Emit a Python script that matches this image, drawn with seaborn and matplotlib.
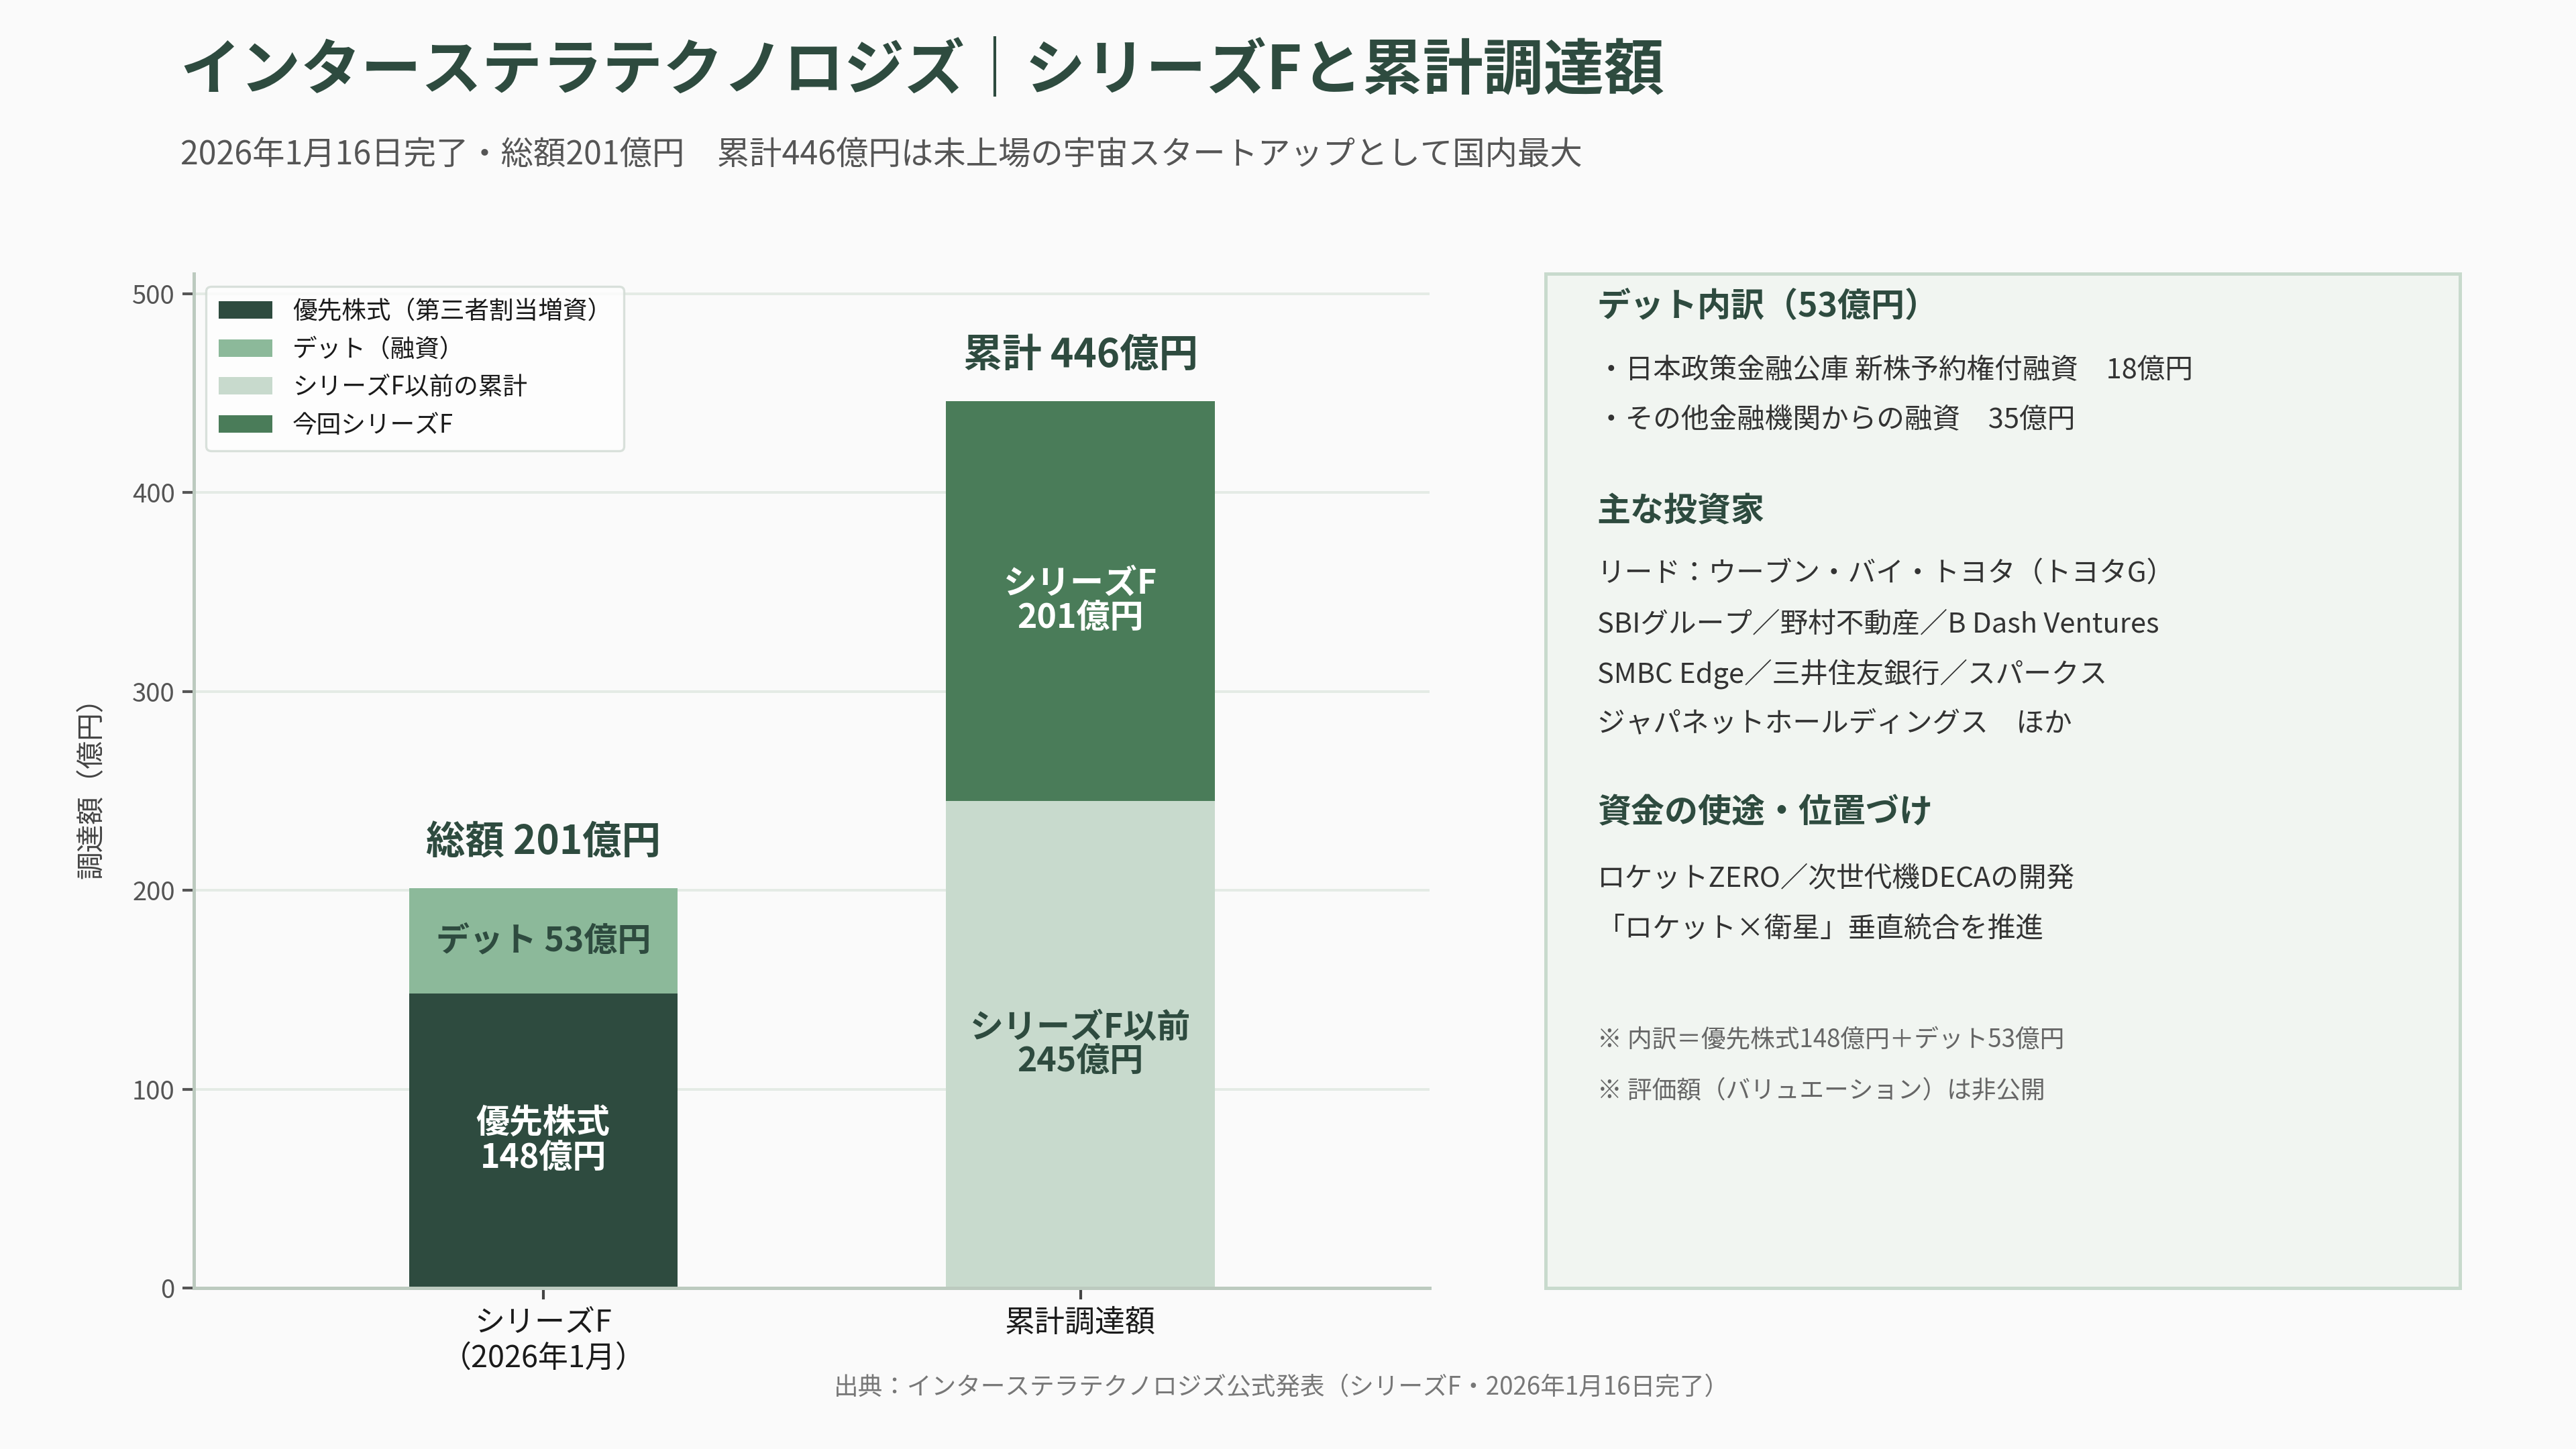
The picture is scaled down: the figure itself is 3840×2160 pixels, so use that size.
import numpy as np
import pandas as pd
import matplotlib
matplotlib.use("Agg")
import matplotlib.pyplot as plt
from matplotlib.patches import Patch
import seaborn as sns

# data
categories = ["シリーズF\n（2026年1月）", "累計調達額"]
preferred = [148, 0]      # 優先株式
debt = [53, 0]            # デット
prev_total = [0, 245]     # シリーズF以前
series_f = [0, 201]       # 今回シリーズF
totals = [201, 446]

legend_labels = ["優先株式（第三者割当増資）", "デット（融資）", "シリーズF以前の累計", "今回シリーズF"]
yticks = [0, 100, 200, 300, 400, 500]

# colors
c_pref = "#2e4b3f"
c_debt = "#8cb99a"
c_prev = "#c8dacd"
c_f = "#4a7c59"
c_text = "#2e4b3f"
bg = "#fafafa"

sns.set_theme(style="white")
plt.rcParams["font.family"] = ["Noto Sans CJK JP", "DejaVu Sans"]

fig = plt.figure(figsize=(16, 9), dpi=240, facecolor=bg)
ax = fig.add_axes([0.0753, 0.111, 0.4797, 0.700])
ax.set_facecolor(bg)

df = pd.DataFrame({"cat": categories, "pref": preferred, "debt": debt,
                   "prev": prev_total, "f": series_f})

# stacked layers
bar_kw = dict(width=0.5, linewidth=0, saturation=1, ax=ax)
sns.barplot(data=df, x="cat", y="pref", color=c_pref, **bar_kw)
sns.barplot(data=df, x="cat", y="debt", color=c_debt, bottom=np.array(preferred), **bar_kw)
sns.barplot(data=df, x="cat", y="prev", color=c_prev, **bar_kw)
sns.barplot(data=df, x="cat", y="f", color=c_f, bottom=np.array(prev_total), **bar_kw)

ax.set_xlim(-0.65, 1.65)
ax.set_ylim(0, 510)
ax.set_yticks(yticks)
ax.grid(axis="y", color="#e4ebe5", linewidth=1.2)
ax.set_axisbelow(True)
for s in ["top", "right"]:
    ax.spines[s].set_visible(False)
for s in ["left", "bottom"]:
    ax.spines[s].set_color("#bccabf")
    ax.spines[s].set_linewidth(1.5)
ax.tick_params(axis="y", labelsize=11.5, colors="#555555", length=5, left=True)
ax.tick_params(axis="x", labelsize=13.5, labelcolor="#1a1a1a", length=5, bottom=True, color="#444444")
ax.set_xlabel("")
ax.set_ylabel("調達額（億円）", fontsize=12.5, color="#444444", labelpad=12)

# segment labels
seg_kw = dict(ha="center", va="center", fontsize=15, fontweight="bold", linespacing=1.0)
ax.text(0, preferred[0] / 2, "優先株式\n148億円", color="white", **seg_kw)
ax.text(0, preferred[0] + debt[0] / 2, "デット 53億円", color=c_text, **seg_kw)
ax.text(1, prev_total[1] / 2, "シリーズF以前\n245億円", color=c_text, **seg_kw)
ax.text(1, prev_total[1] + series_f[1] / 2, "シリーズF\n201億円", color="white", **seg_kw)
ax.text(0, totals[0] + 23, "総額 201億円", ha="center", va="center",
        color=c_text, fontsize=17.5, fontweight="bold")
ax.text(1, totals[1] + 23, "累計 446億円", ha="center", va="center",
        color=c_text, fontsize=17.5, fontweight="bold")

handles = [Patch(facecolor=c, edgecolor="none") for c in [c_pref, c_debt, c_prev, c_f]]
leg = ax.legend(handles, legend_labels, loc="upper left", fontsize=11,
                frameon=True, facecolor="white", edgecolor="#d0dad3",
                bbox_to_anchor=(0.0, 1.0), handlelength=2.2, borderpad=0.5,
                labelspacing=0.48)
for t in leg.get_texts():
    t.set_color("#1a1a1a")

# titles
fig.text(0.070, 0.951, "インターステラテクノロジズ｜シリーズFと累計調達額", fontsize=27,
         fontweight="bold", color=c_text, va="center", ha="left")
fig.text(0.070, 0.893, "2026年1月16日完了・総額201億円　累計446億円は未上場の宇宙スタートアップとして国内最大",
         fontsize=14.5, color="#555555", va="center", ha="left")

# right info panel
panel = fig.add_axes([0.600, 0.111, 0.355, 0.700])
panel.set_facecolor("#f1f5f1")
panel.set_xticks([])
panel.set_yticks([])
for s in panel.spines.values():
    s.set_color("#c8dacd")
    s.set_linewidth(1.5)

px = 0.620
heading_kw = dict(fontsize=15, fontweight="bold", color=c_text, va="center", ha="left")
body_kw = dict(fontsize=12.5, color="#333333", va="center", ha="left")
note_kw = dict(fontsize=11, color="#666666", va="center", ha="left")

fig.text(px, 0.788, "デット内訳（53億円）", **heading_kw)
fig.text(px, 0.744, "・日本政策金融公庫 新株予約権付融資　18億円", **body_kw)
fig.text(px, 0.710, "・その他金融機関からの融資　35億円", **body_kw)
fig.text(px, 0.647, "主な投資家", **heading_kw)
fig.text(px, 0.604, "リード：ウーブン・バイ・トヨタ（トヨタG）", **body_kw)
fig.text(px, 0.569, "SBIグループ／野村不動産／B Dash Ventures", **body_kw)
fig.text(px, 0.535, "SMBC Edge／三井住友銀行／スパークス", **body_kw)
fig.text(px, 0.500, "ジャパネットホールディングス　ほか", **body_kw)
fig.text(px, 0.439, "資金の使途・位置づけ", **heading_kw)
fig.text(px, 0.393, "ロケットZERO／次世代機DECAの開発", **body_kw)
fig.text(px, 0.359, "「ロケット×衛星」垂直統合を推進", **body_kw)
fig.text(px, 0.282, "※ 内訳＝優先株式148億円＋デット53億円", **note_kw)
fig.text(px, 0.247, "※ 評価額（バリュエーション）は非公開", **note_kw)

fig.text(0.4975, 0.042, "出典：インターステラテクノロジズ公式発表（シリーズF・2026年1月16日完了）",
         fontsize=11, color="#777777", ha="center", va="center")

fig.savefig("out.png", dpi=240, facecolor=bg)
